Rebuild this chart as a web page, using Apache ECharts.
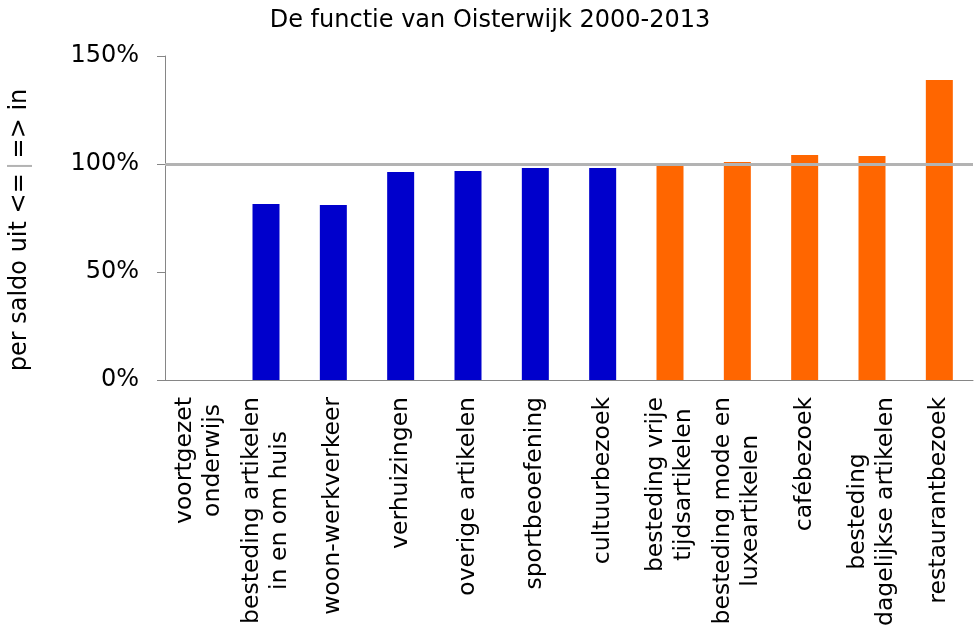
<!DOCTYPE html>
<html>
<head>
<meta charset="utf-8">
<script src="https://cdn.jsdelivr.net/npm/echarts@6/dist/echarts.min.js"></script>
<style>
  html, body { margin: 0; padding: 0; background: #fff; }
  #main { width: 980px; height: 637px; }
</style>
</head>
<body>
<div id="main"></div>
<script>
// categories (x axis), in reading order
var categories = [
  "voortgezet\nonderwijs",
  "besteding artikelen\nin en om huis",
  "woon-werkverkeer",
  "verhuizingen",
  "overige artikelen",
  "sportbeoefening",
  "cultuurbezoek",
  "besteding vrije\ntijdsartikelen",
  "besteding mode en\nluxeartikelen",
  "cafébezoek",
  "besteding\ndagelijkse artikelen",
  "restaurantbezoek"
];
// per saldo uit (blue) and per saldo in (orange), in %
var uitValues = [0, 81.5, 81, 96.3, 96.8, 98.1, 98.1, null, null, null, null, null];
var inValues = [null, null, null, null, null, null, null, 99.6, 100.9, 104.2, 103.7, 138.9];
var yTicks = [0, 50, 100, 150];

var font = "DejaVu Sans, Verdana, sans-serif";
var chart = echarts.init(document.getElementById("main"));
chart.setOption({
  animation: false,
  title: {
    text: "De functie van Oisterwijk 2000-2013",
    left: "center",
    top: 4,
    textStyle: { fontFamily: font, fontSize: 24, fontWeight: "normal", color: "#000" }
  },
  grid: { left: 165, right: 7, top: 56, bottom: 257, outerBoundsMode: "none", containLabel: false },
  xAxis: {
    type: "category",
    data: categories,
    axisLine: { lineStyle: { color: "#868686", width: 1 } },
    axisTick: { show: false },
    axisLabel: {
      rotate: 90,
      interval: 0,
      margin: 17,
      fontFamily: font,
      fontSize: 23.5,
      lineHeight: 28,
      color: "#000",
      formatter: function (v) {
        return v.split("\n").map(function (s) { return "{c|" + s + "}"; }).join("\n");
      },
      rich: { c: { align: "center", fontFamily: font, fontSize: 23.5, lineHeight: 28, color: "#000" } }
    }
  },
  yAxis: {
    type: "value",
    min: yTicks[0],
    max: yTicks[yTicks.length - 1],
    interval: 50,
    name: "{t|per saldo uit <=} {g||} {t|=> in}",
    nameLocation: "middle",
    nameRotate: 90,
    nameGap: 133,
    nameTextStyle: {
      padding: [0, 24, 0, 0],
      rich: {
        t: { fontFamily: font, fontSize: 24, color: "#000" },
        g: { fontFamily: font, fontSize: 24, color: "#b3b3b3" }
      }
    },
    axisLine: { show: true, lineStyle: { color: "#868686" } },
    axisTick: { show: true, length: 8, lineStyle: { color: "#868686" } },
    splitLine: { show: false },
    axisLabel: {
      formatter: "{value}%",
      margin: 26,
      fontFamily: font,
      fontSize: 24,
      color: "#000"
    }
  },
  series: [
    {
      name: "uit",
      type: "bar",
      data: uitValues,
      barWidth: 27,
      barGap: "-100%",
      itemStyle: { color: "#0000CC" }
    },
    {
      name: "in",
      type: "bar",
      data: inValues,
      barWidth: 27,
      itemStyle: { color: "#FF6600" },
      markLine: {
        silent: true,
        symbol: "none",
        label: { show: false },
        lineStyle: { color: "#b3b3b3", width: 3, type: "solid" },
        data: [{ yAxis: 100 }]
      }
    }
  ]
});
</script>
</body>
</html>
